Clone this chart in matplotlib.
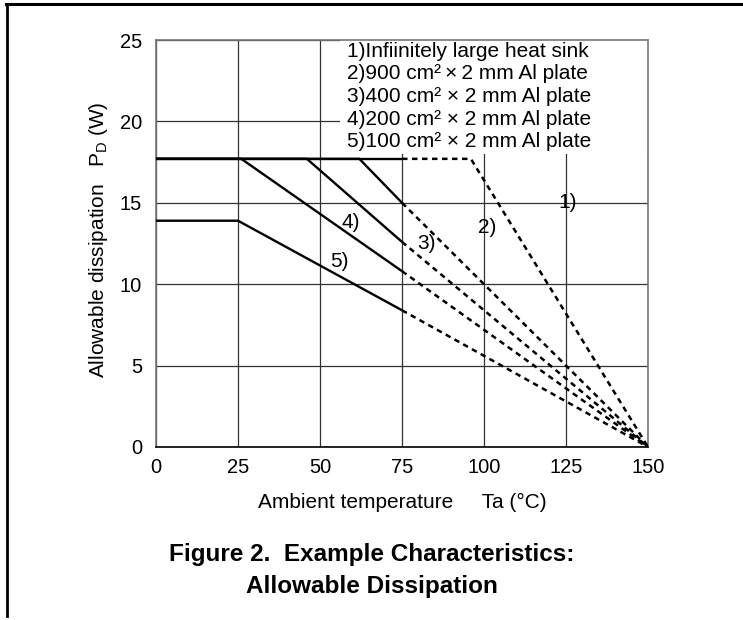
import matplotlib
matplotlib.use('Agg')

import matplotlib.pyplot as plt
from matplotlib.lines import Line2D
from matplotlib.patches import Rectangle

plt.rcParams['font.family'] = ['Liberation Sans', 'DejaVu Sans']
plt.rcParams['mathtext.fontset'] = 'custom'
plt.rcParams['mathtext.rm'] = 'Liberation Sans'
plt.rcParams['mathtext.it'] = 'Liberation Sans'

# curve data: (Ta, PD) points
labels = ["1)", "2)", "3)", "4)", "5)"]
solid_ta = [[0, 75], [0, 62, 75], [0, 46, 75], [0, 26, 75], [0, 25, 75]]
solid_pd = [[17.7, 17.7], [17.7, 17.7, 15.0], [17.7, 17.7, 12.6],
            [17.7, 17.7, 10.8], [13.9, 13.9, 8.4]]
dash_ta = [[75, 96, 150], [75, 150], [75, 150], [75, 150], [75, 150]]
dash_pd = [[17.7, 17.7, 0], [15.0, 0], [12.6, 0], [10.8, 0], [8.4, 0]]
label_pos = [(125.5, 15.0), (101, 13.5), (82.5, 12.5), (59.5, 13.8), (56, 11.4)]

legend_lines = [
    "1)Infiinitely large heat sink",
    "2)900 cm²\u2009×\u20092 mm Al plate",
    "3)400 cm² × 2 mm Al plate",
    "4)200 cm² × 2 mm Al plate",
    "5)100 cm² × 2 mm Al plate",
]

x_ticks = [0, 25, 50, 75, 100, 125, 150]
y_ticks = [0, 5, 10, 15, 20, 25]

W, H = 743, 620
fig = plt.figure(figsize=(W / 100, H / 100), dpi=100)
ax = fig.add_axes([156 / W, 1 - 447 / H, 492 / W, 407 / H])

for i in range(len(labels)):
    ax.plot(solid_ta[i], solid_pd[i], color='black', lw=1.7,
            solid_capstyle='butt', zorder=3)
    ax.plot(dash_ta[i], dash_pd[i], color='black', lw=1.8,
            dashes=(2.2, 1.8), zorder=3)
    ax.text(label_pos[i][0], label_pos[i][1], labels[i], fontsize=15,
            ha='center', va='center', zorder=4)

# white box behind the legend text hides the grid there
ax.add_patch(Rectangle((56, 18.0), 94, 7, facecolor='white',
                       edgecolor='none', zorder=2))

ax.set_xlim(0, 150)
ax.set_ylim(0, 25)
ax.set_xticks(x_ticks)
ax.set_yticks(y_ticks)
ax.tick_params(length=0, labelsize=14.5)
ax.tick_params(axis='x', pad=8)
ax.tick_params(axis='y', pad=10)
ax.grid(True, color='#333333', lw=0.9)
for s in ax.spines.values():
    s.set_color('#777777')
    s.set_linewidth(1.2)
    s.set_zorder(2.5)
ax.spines['bottom'].set_color('black')

ax.set_xlabel("Ambient temperature     Ta (°C)", fontsize=15, va='center')
ax.xaxis.set_label_coords(0.5, (447 - 502) / 407)
ax.set_ylabel("Allowable dissipation   P$_{\\mathrm{D}}$ (W)", fontsize=15,
              va='center')
ax.yaxis.set_label_coords((99 - 156) / 492, 0.51)

fig.text(347 / W, 1 - 96.5 / H, "\n".join(legend_lines), fontsize=15,
         ha='left', va='center', linespacing=1.24,
         family=['Liberation Sans', 'DejaVu Sans'])

fig.text(372 / W, 1 - 555 / H, "Figure 2.  Example Characteristics:",
         fontsize=17.5, fontweight='bold', ha='center', va='center')
fig.text(372 / W, 1 - 587 / H, "Allowable Dissipation",
         fontsize=17.5, fontweight='bold', ha='center', va='center')

# page frame (top and left only)
fig.add_artist(Line2D([6 / W, 1], [1 - 4 / H, 1 - 4 / H], color='black',
                      lw=2.2, transform=fig.transFigure))
fig.add_artist(Line2D([7 / W, 7 / W], [1 - 4 / H, 1 - 616 / H], color='black',
                      lw=2.0, transform=fig.transFigure))

fig.savefig("out.png", dpi=100)
